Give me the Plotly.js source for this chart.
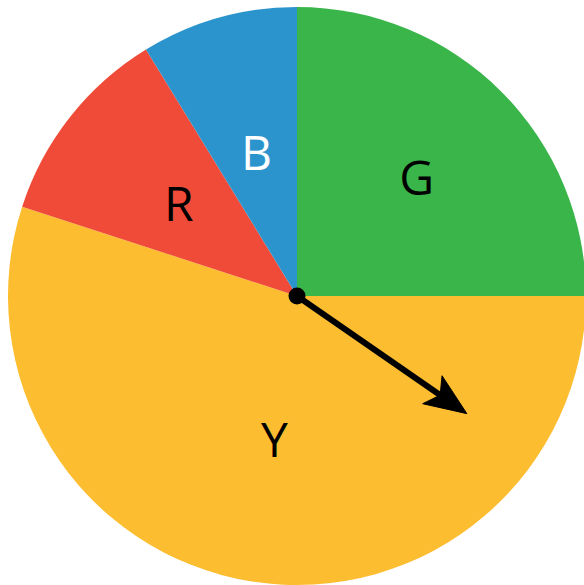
<!DOCTYPE html>
<html>
<head>
<meta charset="utf-8">
<script src="https://cdn.plot.ly/plotly-3.0.1.min.js"></script>
<style>
  html, body { margin: 0; padding: 0; overflow: hidden; background: #fff; }
  #chart { width: 586px; height: 585px; }
</style>
</head>
<body>
<div id="chart"></div>
<script>
// Spinner sections (clockwise from 12 o'clock)
const labels = ["G", "Y", "R", "B"];
const values = [20, 44, 9, 7];
const colors = ["#39b54a", "#fcbd30", "#f04b38", "#2b94cd"];
const labelColors = ["#000000", "#000000", "#000000", "#ffffff"];
// Pointer direction in degrees (counterclockwise from 3 o'clock) and length as fraction of radius
const pointerAngleDeg = -34.7;
const pointerLength = 0.715;

const W = 586, H = 585;
const margin = { l: 8, r: 0, t: 7, b: 0 };
const plotW = W - margin.l - margin.r;   // 578
const plotH = H - margin.t - margin.b;   // 578
const R = Math.min(plotW, plotH) / 2;
const FONT = { size: 48, family: "Open Sans" };

// helper: pixel offset from centre (x right, y up) -> paper coords
function P(dx, dy) {
  return [0.5 + dx / plotW, 0.5 + dy / plotH];
}

// Narrow slices get their label drawn at mid-radius (Plotly would push them outward)
const total = values.reduce((a, b) => a + b, 0);
const pieText = [];
const labelAnnotations = [];
let cum = 0;
values.forEach((v, i) => {
  const frac = v / total;
  const midDeg = 90 - 360 * (cum + frac / 2);   // clockwise from 12 o'clock
  cum += frac;
  if (frac < 0.15) {
    pieText.push("");
    const a = midDeg * Math.PI / 180;
    const p = P(Math.cos(a) * 0.52 * R, Math.sin(a) * 0.52 * R);
    labelAnnotations.push({
      xref: "paper", yref: "paper", x: p[0], y: p[1],
      xanchor: "center", yanchor: "middle", showarrow: false,
      text: labels[i], font: Object.assign({}, FONT, { color: labelColors[i] })
    });
  } else {
    pieText.push(labels[i]);
  }
});

const th = pointerAngleDeg * Math.PI / 180;
const ux = Math.cos(th), uy = Math.sin(th);
const nx = -uy, ny = ux;
const L = pointerLength * R;
const headLen = 42, headHalf = 17, notch = 9.5;
const tip = P(ux * L, uy * L);
const back = L - headLen;
const c1 = P(ux * back + nx * headHalf, uy * back + ny * headHalf);
const c2 = P(ux * back - nx * headHalf, uy * back - ny * headHalf);
const nt = P(ux * (back + notch), uy * (back + notch));
const lineEnd = P(ux * (back + notch + 2), uy * (back + notch + 2));
const fmt = p => p[0].toFixed(5) + "," + p[1].toFixed(5);

const data = [{
  type: "pie",
  labels: labels,
  values: values,
  text: pieText,
  sort: false,
  direction: "clockwise",
  rotation: 0,
  marker: { colors: colors, line: { width: 0 } },
  textinfo: "text",
  textposition: "inside",
  insidetextorientation: "horizontal",
  textfont: Object.assign({}, FONT, { color: labelColors }),
  hoverinfo: "none",
  showlegend: false
}];

const layout = {
  width: W, height: H,
  margin: margin,
  paper_bgcolor: "#ffffff",
  showlegend: false,
  annotations: labelAnnotations,
  shapes: [
    {
      type: "line", xref: "paper", yref: "paper",
      x0: 0.5, y0: 0.5, x1: lineEnd[0], y1: lineEnd[1],
      line: { color: "#000000", width: 6 }
    },
    {
      type: "path", xref: "paper", yref: "paper",
      path: "M" + fmt(tip) + "L" + fmt(c1) + "L" + fmt(nt) + "L" + fmt(c2) + "Z",
      fillcolor: "#000000", line: { color: "#000000", width: 1 }
    },
    {
      type: "circle", xref: "paper", yref: "paper",
      xsizemode: "pixel", ysizemode: "pixel",
      xanchor: 0.5, yanchor: 0.5,
      x0: -8.5, x1: 8.5, y0: -8.5, y1: 8.5,
      fillcolor: "#000000", line: { width: 0 }
    }
  ]
};

Plotly.newPlot("chart", data, layout, { staticPlot: true, displayModeBar: false });
</script>
</body>
</html>
